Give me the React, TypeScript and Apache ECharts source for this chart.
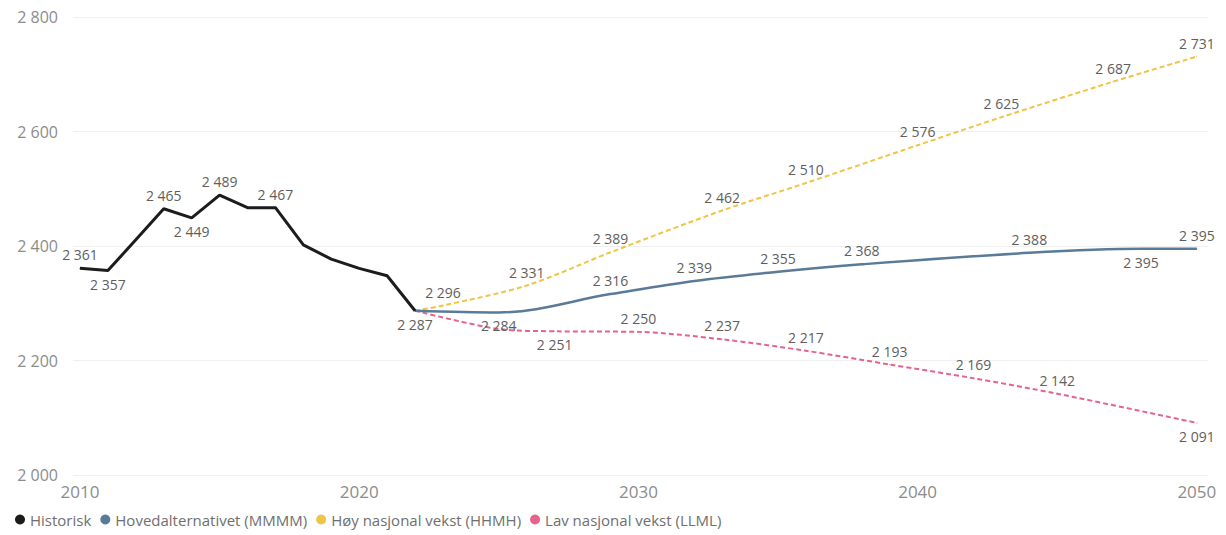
import React, { useEffect, useRef } from "react";
import * as echarts from "echarts";

const historiskYears = [2010, 2011, 2012, 2013, 2014, 2015, 2016, 2017, 2018, 2019, 2020, 2021, 2022];
const historiskValues = [2361, 2357, 2411, 2465, 2449, 2489, 2467, 2467, 2402, 2377, 2361, 2348, 2287];
const historiskLabels = ["top", "bottom", "", "top", "bottom", "top", "", "top", "", "", "", "", "bottom"];

const hovedYears = [2022, 2025, 2029, 2032, 2035, 2038, 2044, 2048, 2050];
const hovedValues = [2287, 2284, 2316, 2339, 2355, 2368, 2388, 2395, 2395];
const hovedLabels = ["", "bottom", "top", "top", "top", "top", "top", "bottom", "top"];

const hoyYears = [2022, 2023, 2026, 2029, 2033, 2036, 2040, 2043, 2047, 2050];
const hoyValues = [2287, 2296, 2331, 2389, 2462, 2510, 2576, 2625, 2687, 2731];
const hoyLabels = ["", "top", "top", "top", "top", "top", "top", "top", "top", "top"];

const lavYears = [2022, 2025, 2027, 2030, 2033, 2036, 2039, 2042, 2045, 2050];
const lavValues = [2287, 2255, 2251, 2250, 2237, 2217, 2193, 2169, 2142, 2091];
const lavLabels = ["", "", "bottom", "top", "top", "top", "top", "top", "top", "bottom"];

const seriesNames = [
  "Historisk",
  "Hovedalternativet (MMMM)",
  "Høy nasjonal vekst (HHMH)",
  "Lav nasjonal vekst (LLML)",
];
const seriesColors = ["#1c1c1c", "#5a7b98", "#f0c445", "#e5648c"];

const xTicks = [2010, 2020, 2030, 2040, 2050];

const FONT = "'Open Sans', 'DejaVu Sans', sans-serif";

function fmt(v: number): string {
  const s = String(Math.round(v));
  return s.replace(/\B(?=(\d{3})+(?!\d))/g, " ");
}

function buildData(years: number[], values: number[], labels: string[]) {
  return years.map((y, i) => {
    const item: any = { value: [y, values[i]] };
    if (labels[i]) {
      item.label = { show: true, position: labels[i], distance: 6 };
      if (i === 0 && y === 2010) item.label.offset = [10, 0];
    } else {
      item.label = { show: false };
    }
    return item;
  });
}

export default function App() {
  const ref = useRef<HTMLDivElement>(null);
  useEffect(() => {
    if (!ref.current) return;
    const chart = echarts.init(ref.current, undefined, { renderer: "svg" });
    const labelStyle = {
      show: true,
      color: "#5e5e5e",
      fontSize: 14,
      fontFamily: FONT,
      formatter: (p: any) => fmt(Array.isArray(p.value) ? p.value[1] : p.value),
    };
    const mk = (idx: number, years: number[], values: number[], labels: string[], extra: any) => ({
      name: seriesNames[idx],
      type: "line",
      data: buildData(years, values, labels),
      showSymbol: true,
      showAllSymbol: true,
      symbol: "circle",
      symbolSize: 1,
      itemStyle: { color: seriesColors[idx] },
      color: seriesColors[idx],
      label: labelStyle,
      labelLayout: { hideOverlap: false },
      ...extra,
    });
    chart.setOption({
      animation: false,
      backgroundColor: "#ffffff",
      grid: { left: 73, right: 18, top: 17, bottom: 60, containLabel: false },
      legend: {
        left: 10,
        bottom: 3,
        icon: "circle",
        itemWidth: 10,
        itemHeight: 10,
        itemGap: 9,
        textStyle: { color: "#6f6f6f", fontSize: 15, fontFamily: FONT },
        data: seriesNames,
      },
      xAxis: {
        type: "value",
        min: 2009.75,
        max: 2050.4,
        axisLine: { show: false },
        axisTick: { show: false },
        splitLine: { show: false },
        axisLabel: {
          customValues: xTicks,
          color: "#8c8c8c",
          fontSize: 17,
          fontFamily: FONT,
          margin: 8,
          formatter: (v: number) => String(v),
        },
      },
      yAxis: {
        type: "value",
        min: 2000,
        max: 2800,
        interval: 200,
        axisLine: { show: false },
        axisTick: { show: false },
        splitLine: { lineStyle: { color: "#efefef", width: 1 } },
        axisLabel: {
          color: "#8c8c8c",
          fontSize: 16,
          fontFamily: FONT,
          margin: 15,
          formatter: (v: number) => fmt(v),
        },
      },
      series: [
        mk(0, historiskYears, historiskValues, historiskLabels, {
          lineStyle: { width: 3, color: seriesColors[0] },
          z: 5,
        }),
        mk(1, hovedYears, hovedValues, hovedLabels, {
          smooth: 0.35,
          lineStyle: { width: 2.5, color: seriesColors[1] },
          z: 4,
        }),
        mk(2, hoyYears, hoyValues, hoyLabels, {
          smooth: 0.3,
          lineStyle: { width: 2, color: seriesColors[2], type: [5, 3] },
          z: 3,
        }),
        mk(3, lavYears, lavValues, lavLabels, {
          smooth: 0.3,
          lineStyle: { width: 2, color: seriesColors[3], type: [5, 3] },
          z: 3,
        }),
      ],
    });
    return () => chart.dispose();
  }, []);
  return (
    <div
      ref={ref}
      style={{ position: "fixed", left: 0, top: 0, width: 1226, height: 535 }}
    />
  );
}
